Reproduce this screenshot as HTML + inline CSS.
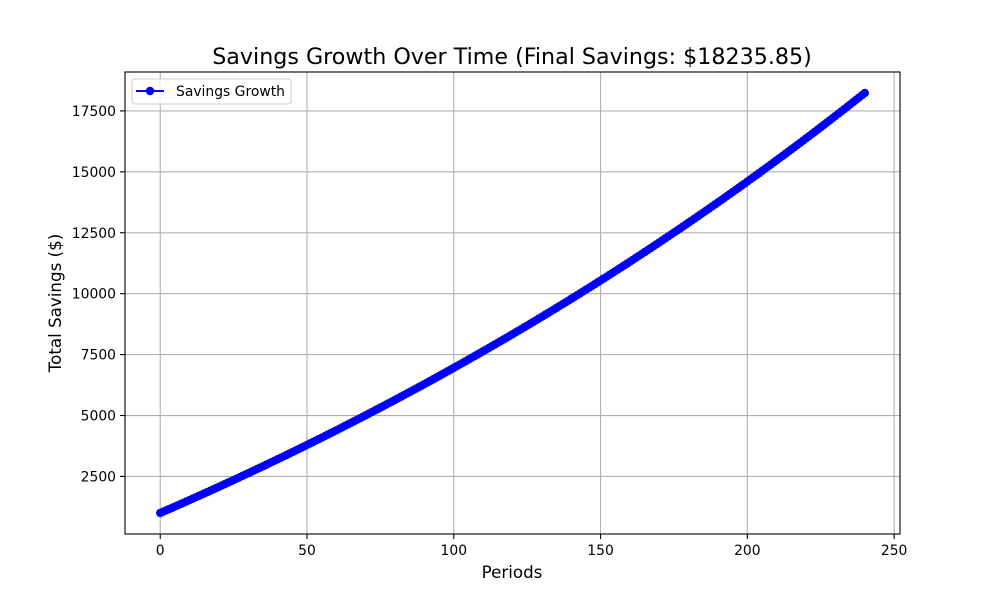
<!DOCTYPE html>
<html><head><meta charset="utf-8"><style>
body{margin:0;background:#fff;}
svg text{font-family:"DejaVu Sans","Liberation Sans",sans-serif;}
</style></head><body>
<svg id="s" width="1000" height="600" xmlns="http://www.w3.org/2000/svg">
<rect width="1000" height="600" fill="#fff"/>
<g id="grid" stroke="#b0b0b0" stroke-width="1.1"></g>
<g id="data"></g>
<rect x="125" y="72" width="775" height="462" fill="none" stroke="#000" stroke-width="1.1"/>
<g id="ticks" font-size="13.9" fill="#000"></g>
<text x="512" y="64" font-size="22.2" text-anchor="middle">Savings Growth Over Time (Final Savings: $18235.85)</text>
<text x="512" y="578" font-size="16.7" text-anchor="middle">Periods</text>
<text x="0" y="0" font-size="16.7" text-anchor="middle" transform="translate(61,303) rotate(-90)">Total Savings ($)</text>
<rect x="132" y="79" width="159" height="25" rx="3" fill="#fff" fill-opacity="0.8" stroke="#ccc" stroke-width="1.1"/>
<line x1="136" y1="91" x2="164" y2="91" stroke="#0000ff" stroke-width="2.1"/>
<circle cx="150" cy="91" r="4.2" fill="#0000ff"/>
<text x="176" y="96" font-size="13.9">Savings Growth</text>
</svg>
<script>
var ns="http://www.w3.org/2000/svg";
function X(v){return 125+(v+12)*775/264;}
function Y(v){return 534-(v-138)*462/(19097.6-138);}
function el(t,a,p){var e=document.createElementNS(ns,t);for(var k in a)e.setAttribute(k,a[k]);p.appendChild(e);return e;}
var g=document.getElementById('grid'),tk=document.getElementById('ticks'),d=document.getElementById('data');
[0,50,100,150,200,250].forEach(function(v){var x=X(v);el('line',{x1:x,x2:x,y1:72,y2:534},g);el('line',{x1:x,x2:x,y1:534,y2:539,stroke:'#000','stroke-width':1.1},tk);var t=el('text',{x:x,y:555,'text-anchor':'middle'},tk);t.textContent=v;});
[2500,5000,7500,10000,12500,15000,17500].forEach(function(v){var y=Y(v);el('line',{x1:125,x2:900,y1:y,y2:y},g);el('line',{x1:120,x2:125,y1:y,y2:y,stroke:'#000','stroke-width':1.1},tk);var t=el('text',{x:116,y:y+5,'text-anchor':'end'},tk);t.textContent=v;});
var pts=[],s=1000;for(var n=0;n<=240;n++){if(n>0)s=s*1.0025+50;pts.push([X(n),Y(s)]);}
el('polyline',{points:pts.map(function(p){return p.join(',')}).join(' '),fill:'none',stroke:'#0000ff','stroke-width':2.1},d);
pts.forEach(function(p){el('circle',{cx:p[0],cy:p[1],r:4.2,fill:'#0000ff'},d);});
</script>
</body></html>
